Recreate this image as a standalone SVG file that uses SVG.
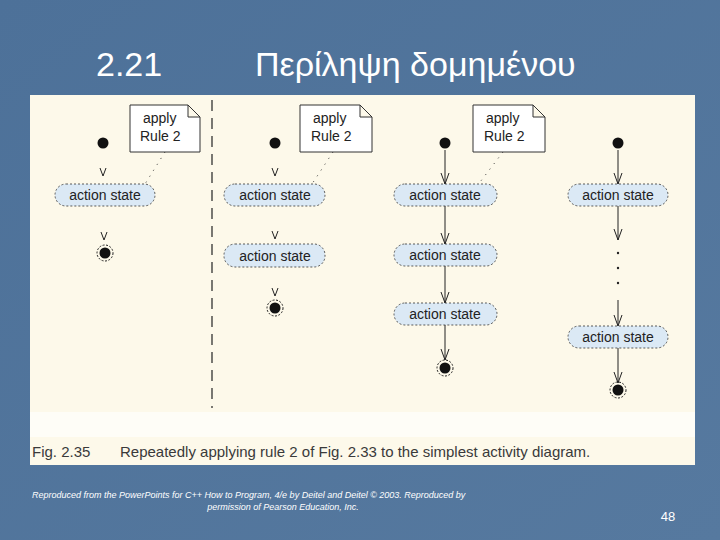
<svg xmlns="http://www.w3.org/2000/svg" width="720" height="540" viewBox="0 0 720 540">
<defs>
<style>
.pill{fill:#dbe9f5;stroke:#333;stroke-width:0.8;stroke-dasharray:2 2}
.pt{font-family:"Liberation Sans",Arial,sans-serif;font-size:14px;fill:#222;text-anchor:middle}
.note{fill:#fff;stroke:#333;stroke-width:1}
.nt{font-family:"Liberation Sans",Arial,sans-serif;font-size:14px;fill:#222}
.ln{stroke:#222;stroke-width:1;fill:none}
.dot{stroke:#333;stroke-width:1;stroke-dasharray:1 6;fill:none}
.ah{stroke:#222;stroke-width:1;fill:none}
.foot{font-family:"Liberation Sans",Arial,sans-serif;font-size:9px;font-style:italic;fill:#fff}
</style>
<linearGradient id="bg" x1="0" y1="0" x2="1" y2="1"><stop offset="0" stop-color="#4d7199"/><stop offset="1" stop-color="#56799f"/></linearGradient>
</defs>
<rect width="720" height="540" fill="url(#bg)"/>
<text x="96" y="76" font-family="Liberation Sans,Arial,sans-serif" font-size="34" fill="#fff">2.21</text>
<text x="255" y="76" font-family="Liberation Sans,Arial,sans-serif" font-size="34" fill="#fff">Περίληψη δομημένου</text>
<rect x="30" y="95" width="665" height="370" fill="#fdf9ea"/>
<rect x="30" y="412" width="665" height="25" fill="#fefdf7"/>
<text x="32" y="457" font-family="Liberation Sans,Arial,sans-serif" font-size="15" fill="#3a3a3a">Fig. 2.35<tspan x="120">Repeatedly applying rule 2 of Fig. 2.33 to the simplest activity diagram.</tspan></text>
<line x1="212" y1="100" x2="212" y2="408" stroke="#222" stroke-width="1.2" stroke-dasharray="11 7"/>

<g id="connectors">
<path class="ah" d="M100 168 L103 176 L106 168 M101 232 L104 240 L107 232"/>
<path class="ah" d="M272 168 L275 176 L278 168 M272 231 L275 239 L278 231 M272 288 L275 296 L278 288"/>
<path class="ln" d="M445 150 V184 M445 206 V244 M445 266 V303 M445 325 V360"/>
<path class="ah" d="M441 173 L445 184 L449 173 M441 233 L445 244 L449 233 M441 292 L445 303 L449 292 M441 349 L445 360 L449 349"/>
<path class="ln" d="M618 150 V184 M618 206 V240 M618 300 V326 M618 348 V383"/>
<path class="ah" d="M614 173 L618 184 L622 173 M614 229 L618 240 L622 229 M614 315 L618 326 L622 315 M614 372 L618 383 L622 372"/>
<path class="dot" d="M165 152 L145 184 M333 152 L312 184 M503 152 L477 186"/>
<circle cx="618" cy="253" r="1.2" fill="#222"/><circle cx="618" cy="268" r="1.2" fill="#222"/><circle cx="618" cy="283" r="1.2" fill="#222"/>
</g>

<g id="col1">
<circle cx="103" cy="143" r="5.5" fill="#111"/>
<path class="note" d="M130 105 H188 L200 117 V152 H130 Z M188 105 V117 H200"/>
<text class="nt" x="143" y="123">apply</text><text class="nt" x="140" y="141">Rule 2</text>
<rect class="pill" x="55" y="184" width="100" height="22" rx="11"/><text class="pt" x="105" y="200">action state</text>
<circle cx="105" cy="253" r="8" fill="none" stroke="#222" stroke-dasharray="2 1.5"/><circle cx="105" cy="253" r="5.5" fill="#111"/>
</g>
<g id="col2">
<circle cx="275" cy="143" r="5.5" fill="#111"/>
<path class="note" d="M300 105 H360 L372 117 V152 H300 Z M360 105 V117 H372"/>
<text class="nt" x="313" y="123">apply</text><text class="nt" x="311" y="141">Rule 2</text>
<rect class="pill" x="224" y="184" width="101" height="22" rx="11"/><text class="pt" x="275" y="200">action state</text>
<rect class="pill" x="224" y="244" width="101" height="23" rx="11"/><text class="pt" x="275" y="261">action state</text>
<circle cx="275" cy="308" r="8" fill="none" stroke="#222" stroke-dasharray="2 1.5"/><circle cx="275" cy="308" r="5.5" fill="#111"/>
</g>
<g id="col3">
<circle cx="445" cy="143" r="5.5" fill="#111"/>
<path class="note" d="M473 105 H533 L545 117 V152 H473 Z M533 105 V117 H545"/>
<text class="nt" x="486" y="123">apply</text><text class="nt" x="484" y="141">Rule 2</text>
<rect class="pill" x="394" y="184" width="103" height="22" rx="11"/><text class="pt" x="445" y="200">action state</text>
<rect class="pill" x="394" y="244" width="103" height="22" rx="11"/><text class="pt" x="445" y="260">action state</text>
<rect class="pill" x="394" y="303" width="103" height="22" rx="11"/><text class="pt" x="445" y="319">action state</text>
<circle cx="445" cy="368" r="8" fill="none" stroke="#222" stroke-dasharray="2 1.5"/><circle cx="445" cy="368" r="5.5" fill="#111"/>
</g>
<g id="col4">
<circle cx="618" cy="143" r="5.5" fill="#111"/>
<rect class="pill" x="568" y="184" width="100" height="22" rx="11"/><text class="pt" x="618" y="200">action state</text>
<rect class="pill" x="568" y="326" width="100" height="22" rx="11"/><text class="pt" x="618" y="342">action state</text>
<circle cx="618" cy="390" r="8" fill="none" stroke="#222" stroke-dasharray="2 1.5"/><circle cx="618" cy="390" r="5.5" fill="#111"/>
</g>

<text class="foot" x="32" y="498">Reproduced from the PowerPoints for C++ How to Program, 4/e by Deitel and Deitel © 2003. Reproduced by</text>
<text class="foot" x="283" y="510" text-anchor="middle">permission of Pearson Education, Inc.</text>
<text x="668" y="521" font-family="Liberation Sans,Arial,sans-serif" font-size="13" fill="#fff" text-anchor="middle">48</text>
</svg>
